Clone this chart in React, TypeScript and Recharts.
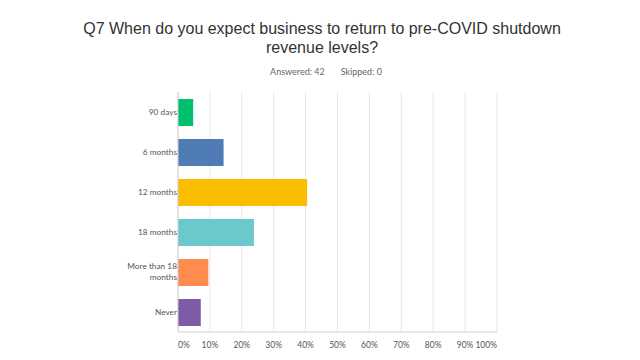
import React from "react";
import { BarChart, Bar, XAxis, YAxis, CartesianGrid, Cell } from "recharts";

const categories = ["90 days", "6 months", "12 months", "18 months", "More than 18 months", "Never"];
const percents = [4.76, 14.29, 40.48, 23.81, 9.52, 7.14];
const colors = ["#00BF6F", "#507CB6", "#F9BE00", "#6BC8CD", "#FF8B4F", "#7D5BA6"];
const xTicks = [0, 10, 20, 30, 40, 50, 60, 70, 80, 90, 100];
const titleLines = ["Q7 When do you expect business to return to pre-COVID shutdown", "revenue levels?"];
const answered = 42;
const skipped = 0;

const data = categories.map((name, i) => ({ name, value: percents[i] }));

const TICK_FONT = "Lato, 'Open Sans', sans-serif";

function wrapLabel(label: string, maxChars: number): string[] {
  const words = label.split(" ");
  const lines: string[] = [];
  let cur = "";
  for (const w of words) {
    const cand = cur ? cur + " " + w : w;
    if (cand.length > maxChars && cur) {
      lines.push(cur);
      cur = w;
    } else {
      cur = cand;
    }
  }
  if (cur) lines.push(cur);
  return lines;
}

const YTick = (props: any) => {
  const { x, y, payload } = props;
  const lines = wrapLabel(String(payload.value), 12);
  const lh = 11;
  const start = -((lines.length - 1) * lh) / 2;
  return (
    <text x={x} y={y} textAnchor="end" fill="#555" fontSize={8.3} fontFamily={TICK_FONT}>
      {lines.map((l, i) => (
        <tspan key={i} x={x} y={y + start + i * lh} dy="0.35em">
          {l}
        </tspan>
      ))}
    </text>
  );
};

const XTick = (props: any) => {
  const { x, y, payload, index } = props;
  const v = payload.value;
  const anchor = v === 0 ? "start" : v === 100 ? "end" : "middle";
  return (
    <text x={x} y={y + 13} dy="0.35em" textAnchor={anchor} fill="#555" fontSize={8.5} fontFamily={TICK_FONT} key={index}>
      {v + "%"}
    </text>
  );
};

export default function App() {
  return (
    <div style={{ position: "absolute", left: 0, top: 0, width: 640, height: 360, background: "#fff" }}>
      <div
        style={{
          position: "absolute",
          left: 2,
          top: 19,
          width: 640,
          textAlign: "center",
          fontFamily: "'Liberation Sans', Arial, sans-serif",
          fontSize: 16,
          lineHeight: "19px",
          color: "#333",
        }}
      >
        <div>{titleLines[0]}</div>
        <div>{titleLines[1]}</div>
      </div>
      <div
        style={{
          position: "absolute",
          left: 6,
          top: 66,
          width: 640,
          textAlign: "center",
          fontFamily: TICK_FONT,
          fontSize: 9,
          lineHeight: "12px",
          color: "#666",
        }}
      >
        <span>Answered: {answered}</span>
        <span style={{ marginLeft: 16 }}>Skipped: {skipped}</span>
      </div>
      <div style={{ position: "absolute", left: 0, top: 0 }}>
        <BarChart
          width={640}
          height={360}
          data={data}
          layout="vertical"
          margin={{ top: 92, right: 143, bottom: 8, left: 0 }}
        >
          <CartesianGrid horizontal={false} stroke="#e6e6e6" />
          <XAxis
            type="number"
            domain={[0, 100]}
            ticks={xTicks}
            interval={0}
            height={20}
            tickLine={false}
            tickSize={0}
            tickMargin={0}
            axisLine={{ stroke: "#d0d0d0" }}
            tick={<XTick />}
          />
          <YAxis
            type="category"
            dataKey="name"
            width={178}
            tickLine={false}
            tickSize={0}
            tickMargin={1}
            axisLine={{ stroke: "#d0d0d0" }}
            tick={<YTick />}
            interval={0}
          />
          <Bar dataKey="value" barSize={27} isAnimationActive={false}>
            {data.map((d, i) => (
              <Cell key={d.name} fill={colors[i]} />
            ))}
          </Bar>
        </BarChart>
      </div>
    </div>
  );
}
